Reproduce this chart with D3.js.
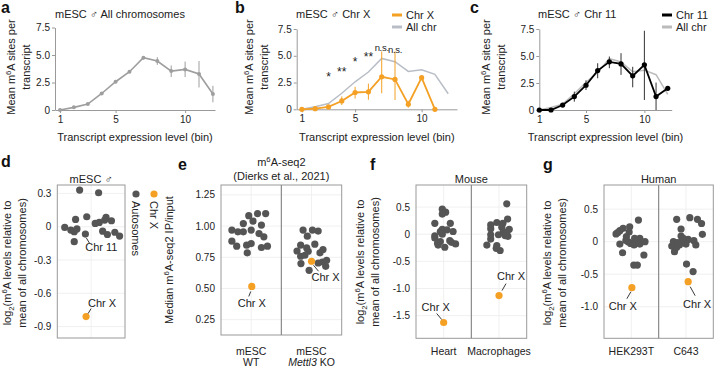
<!DOCTYPE html>
<html>
<head>
<meta charset="utf-8">
<script src="https://cdn.jsdelivr.net/npm/d3@7"></script>
<style>
  body { margin: 0; background: #fff; }
  svg { font-family: "Liberation Sans", Arial, sans-serif; }
</style>
</head>
<body>
<svg id="fig" width="714" height="369"></svg>
<script>
// ---- data: top row (mean m6A sites per transcript, by expression bin) ----
const bins = d3.range(1, 13);
const allChr   = [0, 0.24, 0.54, 1.5, 2.57, 3.48, 4.75, 4.45, 3.54, 3.69, 3.27, 1.45];
const allChrLo = [0, 0.2, 0.48, 1.4, 2.45, 3.35, 4.6, 4.1, 3.0, 3.0, 2.05, 0.7];
const allChrHi = [0, 0.3, 0.6, 1.6, 2.7, 3.6, 4.9, 4.8, 4.05, 4.4, 4.45, 2.2];
const chrX   = [0, 0.06, 0.22, 0.78, 1.57, 1.63, 3.04, 2.79, 0.47, 2.95, 0];
const chrXLo = [0, 0.02, 0.05, 0.4, 1.0, 0.9, 1.5, 0.87, 0.15, 2.75, 0];
const chrXHi = [0, 0.1, 0.4, 1.2, 2.1, 2.4, 5.4, 5.4, 0.8, 3.15, 0];
const chr11   = [0, 0, 0.46, 1.24, 2.29, 3.65, 4.46, 4.27, 3.16, 4.18, 1.24, 2.01];
const chr11Lo = [0, 0, 0.35, 0.77, 1.85, 2.94, 3.87, 3.25, 2.1, 0.93, 0, 2.01];
const chr11Hi = [0, 0, 0.56, 1.7, 2.75, 4.33, 4.95, 5.26, 4.0, 7.34, 2.54, 2.01];
const sigLabels = ["", "", "*", "**", "*", "**", "n.s.", "n.s.", "", "", ""];
const sigHeight = [0, 0, 2.6, 3.1, 4.0, 4.5, 5.4, 5.3, 0, 0, 0];

// ---- data: bottom row (per chromosome values, jitter as fraction of band) ----
const dAuto = [0.33, 0.306, -0.006, -0.03, 0.066, -0.045, -0.02, 0.09, -0.135, -0.066,
               0.03, 0.039, 0.06, 0.084, 0.054, -0.04, -0.07, -0.05, -0.084];
const dJit  = [-0.17, 0.11, -0.39, -0.30, -0.23, -0.25, -0.21, -0.065, -0.25, -0.085,
               0.06, 0.12, 0.2, 0.22, 0.30, 0.17, 0.24, 0.35, 0.42];
const dChr11Index = 9;
const dX = -0.81, dXJit = -0.075;

const eWT    = [0.968, 0.954, 0.954, 0.968, 1.02, 1.083, 1.04, 1.10, 1.10, 1.008,
                0.94, 0.914, 0.879, 0.839, 0.847, 0.86, 0.785, 0.828, 0.839];
const eWTJit = [-0.32, -0.22, -0.13, 0.0, -0.13, -0.04, 0.03, 0.105, 0.24, 0.17,
                0.13, 0.21, -0.32, -0.24, -0.075, 0.0, -0.065, 0.17, 0.27];
const eKO    = [0.968, 0.968, 0.96, 0.919, 0.847, 0.825, 0.855, 0.80, 0.758, 0.766,
                0.798, 0.812, 0.785, 0.699, 0.645, 0.704, 0.712, 0.726, 0.677];
const eKOJit = [-0.14, 0.015, 0.11, -0.07, -0.18, -0.08, 0.055, -0.24, -0.18, -0.11,
                -0.055, 0.19, 0.14, -0.175, -0.04, 0.11, 0.18, 0.25, 0.235];
const eX = [0.516, 0.718], eXJit = [0.01, 0.0];

const fHeart    = [0.46, 0.405, 0.37, 0.2, 0.2, 0.09, 0.08, 0.05, 0.05, -0.03,
                   -0.07, 0.0, -0.12, -0.135, -0.2, -0.24, -0.15, -0.18, -0.165];
const fHeartJit = [-0.025, 0.035, -0.025, -0.16, 0.12, -0.025, 0.06, -0.06, 0.17, -0.16,
                   -0.16, -0.025, 0.11, -0.06, -0.10, 0.02, 0.14, 0.215, -0.11];
const fMac    = [0.56, 0.28, 0.215, 0.17, 0.13, 0.09, 0.05, -0.01, -0.01, -0.025,
                 0.02, -0.09, -0.2, -0.21, -0.3, -0.26, 0.2, 0.1, -0.04];
const fMacJit = [0.14, 0.155, -0.04, -0.15, 0.05, 0.185, 0.08, -0.15, -0.01, 0.11,
                 0.14, -0.15, -0.22, -0.04, 0.02, -0.05, 0.07, -0.15, 0.16];
const fX = [-1.626, -1.13], fXJit = [0, 0];

const gHek    = [0.138, 0.17, 0.205, 0.149, 0.333, -0.036, -0.17, 0.02, 0, -0.026,
                 -0.05, 0.01, 0.05, -0.036, 0, -0.205, -0.36, -0.36, 0.23, 0.12, 0.05, 0.08];
const gHekJit = [-0.25, -0.21, -0.15, -0.04, 0.13, -0.21, -0.16, -0.1, -0.06, -0.015,
                 0.05, 0.105, 0.155, 0.155, 0.25, 0.23, 0.045, 0.11, -0.03, -0.28, 0.06, -0.09];
const gC643    = [0.344, 0.37, 0.344, 0.28, 0.113, 0.195, 0.087, -0.067, -0.154, 0,
                  -0.015, 0, -0.015, -0.036, 0.015, -0.05, -0.344, -0.46, -0.087, -0.05, 0.035, 0.05];
const gC643Jit = [-0.17, 0.07, 0.21, 0.285, 0.30, -0.09, -0.09, -0.26, -0.21, -0.23,
                  -0.16, -0.08, -0.04, 0, 0.145, 0.18, 0.01, 0.13, -0.17, -0.12, 0.04, -0.05];
const gX = [-0.708, -0.615], gXJit = [0.01, 0.04];

const orange = "#f4a024";
const dark = "#555555";
const axisGrey = "#9a9a9a";

const svg = d3.select("#fig");

// text with superscript / subscript pieces
function richText(sel, parts) {
  parts.forEach(p => {
    const t = sel.append("tspan").text(p.t);
    if (p.sup) t.attr("dy", -4).attr("font-size", "70%");
    if (p.sub) t.attr("dy", 2.5).attr("font-size", "70%");
    if (p.back) t.attr("dy", p.back);
    if (p.it) t.attr("font-style", "italic");
  });
  return sel;
}

function yLabel(x, cy, parts) {
  const t = svg.append("text")
    .attr("transform", `translate(${x},${cy}) rotate(-90)`)
    .attr("text-anchor", "middle")
    .attr("font-size", 11)
    .attr("fill", "#222");
  richText(t, parts);
}

function letter(x, y, s) {
  svg.append("text").attr("x", x).attr("y", y).text(s)
    .attr("font-size", 16).attr("font-weight", "bold").attr("fill", "#111");
}

const m6aParts = (before, after) => [{t: before + "m"}, {t: "6", sup: true}, {t: "A" + after, back: 4}];

// ---------- top row line panels ----------
function linePanel(cfg) {
  const x = d3.scaleLinear().domain(cfg.xDomain).range(cfg.xRange);
  const y = d3.scaleLinear().domain([0, 7.5]).range(cfg.yRange);
  const g = svg.append("g");

  const xa = g.append("g").attr("transform", `translate(0,${cfg.yRange[0]})`)
    .call(d3.axisBottom(x).tickValues([1, 5, 10]).tickSize(3).tickPadding(3).tickSizeOuter(0));
  const ya = g.append("g").attr("transform", `translate(${cfg.xRange[0]},0)`)
    .call(d3.axisLeft(y).tickValues([0, 2.5, 5, 7.5]).tickSize(3).tickPadding(2).tickSizeOuter(0)
      .tickFormat(d => d === 0 ? "0" : d3.format(".1f")(d)));
  [xa, ya].forEach(a => {
    a.selectAll("path, line").attr("stroke", axisGrey);
    a.selectAll("text").attr("font-size", 10).attr("fill", "#222").attr("font-family", null);
  });

  cfg.series.forEach(s => {
    const pts = s.vals.map((v, i) => ({bin: bins[i], v, lo: s.lo ? s.lo[i] : v, hi: s.hi ? s.hi[i] : v}));
    if (s.lo) {
      g.append("g").selectAll("line").data(pts).enter().append("line")
        .attr("x1", d => x(d.bin)).attr("x2", d => x(d.bin))
        .attr("y1", d => y(d.lo)).attr("y2", d => y(d.hi))
        .attr("stroke", s.barColor || s.color).attr("stroke-width", 1);
    }
    g.append("path").datum(pts)
      .attr("d", d3.line().x(d => x(d.bin)).y(d => y(d.v)))
      .attr("fill", "none").attr("stroke", s.color).attr("stroke-width", s.width || 1.6);
    if (s.r) {
      g.append("g").selectAll("circle").data(pts).enter().append("circle")
        .attr("cx", d => x(d.bin)).attr("cy", d => y(d.v)).attr("r", s.r).attr("fill", s.color);
    }
  });

  if (cfg.sig) {
    g.append("g").selectAll("text").data(sigLabels.map((s, i) => ({s, bin: bins[i], h: sigHeight[i]})).filter(d => d.s))
      .enter().append("text")
      .attr("x", d => x(d.bin)).attr("y", d => y(d.h))
      .attr("text-anchor", "middle")
      .attr("font-size", d => d.s === "n.s." ? 9.5 : 12)
      .attr("letter-spacing", d => d.s === "n.s." ? -0.3 : 0)
      .attr("fill", "#222").text(d => d.s);
  }

  svg.append("text").attr("x", cfg.titleX).attr("y", 18).attr("font-size", 11).attr("fill", "#222").text(cfg.title);
  svg.append("text").attr("x", (cfg.xRange[0] + cfg.xRange[1]) / 2).attr("y", 141)
    .attr("text-anchor", "middle").attr("font-size", 11).attr("fill", "#222")
    .text("Transcript expression level (bin)");
  yLabel(cfg.yl[0], 67, m6aParts("Mean ", " sites per"));
  yLabel(cfg.yl[1], 67, [{t: "transcript"}]);

  if (cfg.legend) {
    cfg.legend.forEach((l, i) => {
      const ly = 15 + i * 12;
      svg.append("line").attr("x1", cfg.legendX).attr("x2", cfg.legendX + 10)
        .attr("y1", ly).attr("y2", ly).attr("stroke", l.color).attr("stroke-width", 3);
      svg.append("text").attr("x", cfg.legendX + 14).attr("y", ly + 4)
        .attr("font-size", 11).attr("fill", "#222").text(l.name);
    });
  }
}

linePanel({
  xDomain: [0.64, 12.15], xRange: [55, 215], yRange: [110, 27.5],
  title: "mESC \u2642 All chromosomes", titleX: 55, yl: [15, 30],
  series: [{vals: allChr, lo: allChrLo, hi: allChrHi, color: "#9e9e9e", r: 2}]
});
linePanel({
  xDomain: [0.61, 12.66], xRange: [296.7, 457], yRange: [109.3, 29],
  title: "mESC \u2642 Chr X", titleX: 296, yl: [253, 268], sig: true,
  legendX: 392,
  legend: [{name: "Chr X", color: orange}, {name: "All chr", color: "#b9bec6"}],
  series: [
    {vals: allChr, color: "#b9bec6", width: 1.5},
    {vals: chrX, lo: chrXLo, hi: chrXHi, color: orange, r: 2.6, width: 1.8}
  ]
});
linePanel({
  xDomain: [1, 12.34], xRange: [539.3, 671.7], yRange: [110, 29],
  title: "mESC \u2642 Chr 11", titleX: 538, yl: [490, 505],
  legendX: 662,
  legend: [{name: "Chr 11", color: "#000"}, {name: "All chr", color: "#bbbbbb"}],
  series: [
    {vals: allChr, color: "#bbbbbb", width: 1.5},
    {vals: chr11, lo: chr11Lo, hi: chr11Hi, color: "#000", barColor: "#333", r: 2.6, width: 1.8}
  ]
});

letter(1, 13, "a");
letter(235, 13, "b");
letter(470, 13, "c");

// ---------- bottom row strip panels ----------
const minusFmt = f => d => d === 0 ? "0" : d3.format(f)(d).replace("\u2212", "-");

function stripPanel(cfg) {
  const x = d3.scaleBand().domain(cfg.cats.map(c => c.key)).range([cfg.left, cfg.right]);
  const y = d3.scaleLinear().domain(cfg.domain).range([cfg.bottom, cfg.top]);
  const g = svg.append("g");
  const cx = (key, j) => x(key) + x.bandwidth() / 2 + j * x.bandwidth();

  // grid
  g.append("g").selectAll("line").data(cfg.ticks).enter().append("line")
    .attr("x1", cfg.left).attr("x2", cfg.right).attr("y1", d => y(d)).attr("y2", d => y(d))
    .attr("stroke", "#ececec").attr("stroke-width", 0.8);
  g.append("g").selectAll("line").data(cfg.cats).enter().append("line")
    .attr("x1", d => cx(d.key, 0)).attr("x2", d => cx(d.key, 0))
    .attr("y1", cfg.top).attr("y2", cfg.bottom)
    .attr("stroke", "#ececec").attr("stroke-width", 0.8);

  // y axis labels
  g.append("g").selectAll("text").data(cfg.ticks).enter().append("text")
    .attr("x", cfg.left - 6).attr("y", d => y(d)).attr("dy", "0.35em")
    .attr("text-anchor", "end").attr("font-size", 10).attr("fill", "#222")
    .text(cfg.fmt);

  // frame + dividers
  g.append("rect").attr("x", cfg.left).attr("y", cfg.top)
    .attr("width", cfg.right - cfg.left).attr("height", cfg.bottom - cfg.top)
    .attr("fill", "none").attr("stroke", "#999").attr("stroke-width", 1);
  g.append("g").selectAll("line").data(cfg.cats.slice(1)).enter().append("line")
    .attr("x1", d => x(d.key)).attr("x2", d => x(d.key))
    .attr("y1", cfg.top).attr("y2", cfg.bottom)
    .attr("stroke", "#8a8a8a").attr("stroke-width", 1.2);

  cfg.cats.forEach(c => {
    const pts = c.vals.map((v, i) => ({v, j: c.jit[i]}));
    g.append("g").selectAll("circle").data(pts).enter().append("circle")
      .attr("cx", d => cx(c.key, d.j)).attr("cy", d => y(d.v)).attr("r", 3.6).attr("fill", dark);
    const px = cx(c.key, c.xJit), py = y(c.xVal);
    g.append("circle").attr("cx", px).attr("cy", py).attr("r", 3.6).attr("fill", orange);
    const labs = [{px, py, ...c.xLab}];
    if (c.extra) {
      const e = c.extra;
      labs.push({px: cx(c.key, c.jit[e.index]), py: y(c.vals[e.index]), ...e});
    }
    labs.forEach(l => {
      g.append("line").attr("x1", l.px + l.l[0]).attr("y1", l.py + l.l[1])
        .attr("x2", l.px + l.l[2]).attr("y2", l.py + l.l[3])
        .attr("stroke", "#222").attr("stroke-width", 0.9);
      g.append("text").attr("x", l.px + l.dx).attr("y", l.py + l.dy).attr("dy", "0.35em")
        .attr("text-anchor", "middle").attr("font-size", 11).attr("fill", "#222").text(l.text);
    });
    if (c.label) {
      c.label.forEach((line, k) => {
        const t = g.append("text").attr("x", cx(c.key, 0)).attr("y", 351 + k * 11.5).attr("dy", "0.35em")
          .attr("text-anchor", "middle").attr("font-size", 10.5).attr("fill", "#222");
        richText(t, line);
      });
    }
  });

  if (cfg.title) {
    cfg.title.forEach((line, k) => {
      const t = svg.append("text").attr("x", (cfg.left + cfg.right) / 2).attr("y", cfg.titleY + k * 14)
        .attr("text-anchor", "middle").attr("font-size", 11).attr("fill", "#222");
      richText(t, line);
    });
  }
}

const logParts = [{t: "log"}, {t: "2", sub: true}, {t: "(m", back: -2.5}, {t: "6", sup: true}, {t: "A levels relative to", back: 4}];
const meanParts = [{t: "mean of all chromosomes)"}];

stripPanel({
  left: 57.3, right: 125, top: 185, bottom: 338, domain: [-1.003, 0.376],
  ticks: [0.3, 0, -0.3, -0.6, -0.9], fmt: minusFmt(".1f"),
  title: [[{t: "mESC \u2642"}]], titleY: 183,
  cats: [{key: "mESC", vals: dAuto, jit: dJit, xVal: dX, xJit: dXJit,
    xLab: {text: "Chr X", dx: 16, dy: -13, l: [2, -3, 5, -8]},
    extra: {index: dChr11Index, text: "Chr 11", dx: 16, dy: 13, l: [1, 4, 4, 9]}}]
});
yLabel(11, 263, logParts);
yLabel(26, 263, meanParts);
// legend d (vertical)
[{name: "Autosomes", color: dark, x: 136}, {name: "Chr X", color: orange, x: 154}].forEach(l => {
  svg.append("circle").attr("cx", l.x).attr("cy", 194).attr("r", 3.6).attr("fill", l.color);
  svg.append("text").attr("transform", `translate(${l.x},201) rotate(90)`)
    .attr("dominant-baseline", "central").attr("font-size", 11).attr("fill", "#222").text(l.name);
});

stripPanel({
  left: 221, right: 341.7, top: 185, bottom: 335, domain: [0.127, 1.329],
  ticks: [1.25, 1.0, 0.75, 0.5, 0.25], fmt: d => d3.format(".2f")(d),
  title: [m6aParts("", "-seq2"), [{t: "(Dierks et al., 2021)"}]], titleY: 166,
  cats: [
    {key: "WT", vals: eWT, jit: eWTJit, xVal: eX[0], xJit: eXJit[0],
      xLab: {text: "Chr X", dx: 0, dy: 17, l: [-1, 5, -3, 10]},
      label: [[{t: "mESC"}], [{t: "WT"}]]},
    {key: "KO", vals: eKO, jit: eKOJit, xVal: eX[1], xJit: eXJit[1],
      xLab: {text: "Chr X", dx: 14, dy: 16, l: [2, 4, 7, 10]},
      label: [[{t: "mESC"}], [{t: "Mettl3", it: true}, {t: " KO"}]]}
  ]
});
yLabel(173, 260, m6aParts("Median ", "-seq2 IP/input"));

stripPanel({
  left: 416, right: 526.7, top: 185, bottom: 338.3, domain: [-1.917, 0.906],
  ticks: [0.5, 0, -0.5, -1.0, -1.5], fmt: minusFmt(".1f"),
  title: [[{t: "Mouse"}]], titleY: 183,
  cats: [
    {key: "Heart", vals: fHeart, jit: fHeartJit, xVal: fX[0], xJit: fXJit[0],
      xLab: {text: "Chr X", dx: -8, dy: -15, l: [-7, -9, -2, -3]},
      label: [[{t: "Heart"}]]},
    {key: "Macrophages", vals: fMac, jit: fMacJit, xVal: fX[1], xJit: fXJit[1],
      xLab: {text: "Chr X", dx: 12, dy: -19, l: [3, -5, 7, -12]},
      label: [[{t: "Macrophages"}]]}
  ]
});
yLabel(364, 262, logParts);
yLabel(379, 262, meanParts);

stripPanel({
  left: 604, right: 713.3, top: 185, bottom: 338.3, domain: [-1.486, 0.872],
  ticks: [0.5, 0, -0.5, -1.0], fmt: minusFmt(".1f"),
  title: [[{t: "Human"}]], titleY: 183,
  cats: [
    {key: "HEK293T", vals: gHek, jit: gHekJit, xVal: gX[0], xJit: gXJit[0],
      xLab: {text: "Chr X", dx: -9, dy: 18, l: [-1, 4, -5, 11]},
      label: [[{t: "HEK293T"}]]},
    {key: "C643", vals: gC643, jit: gC643Jit, xVal: gX[1], xJit: gXJit[1],
      xLab: {text: "Chr X", dx: 9, dy: 22, l: [2, 5, 7, 14]},
      label: [[{t: "C643"}]]}
  ]
});
yLabel(551, 263, logParts);
yLabel(566, 263, meanParts);

letter(1, 167, "d");
letter(178, 170, "e");
letter(370, 170, "f");
letter(543, 170, "g");
</script>
</body>
</html>
